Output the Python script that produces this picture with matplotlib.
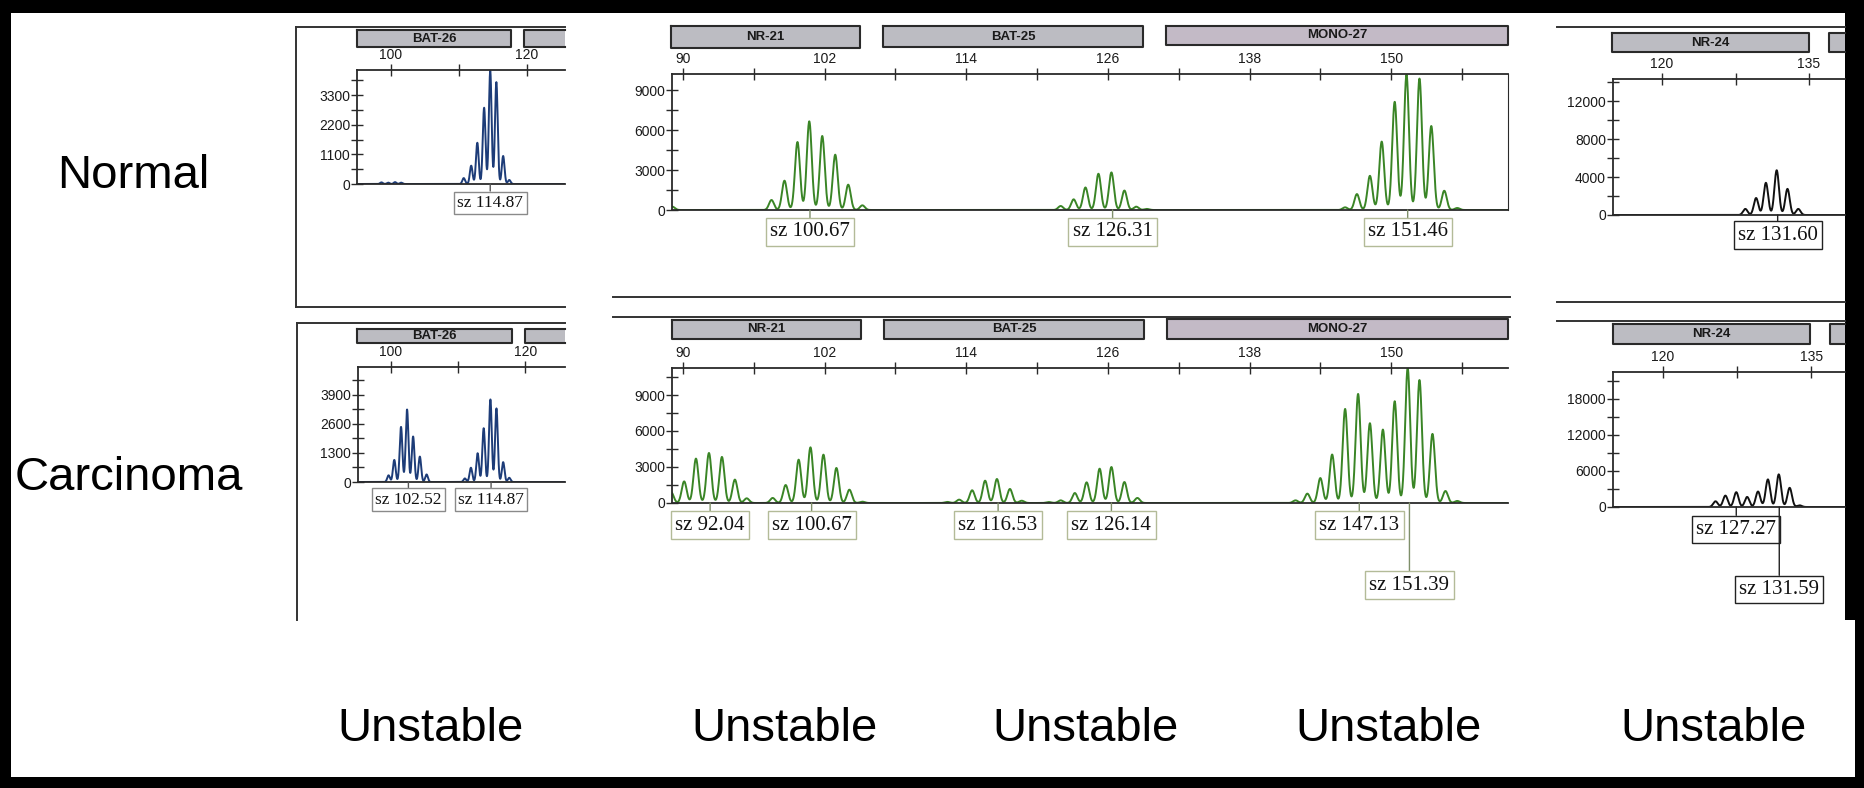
"""MSI electropherograms: normal vs carcinoma (BAT-26, NR-21/BAT-25/MONO-27, NR-24)."""
import numpy as np
import matplotlib
matplotlib.use("Agg")
import matplotlib.pyplot as plt
from matplotlib.patches import Rectangle
from matplotlib.lines import Line2D

W, H = 1865, 788
SANS = ["Liberation Sans", "DejaVu Sans"]
SERIF = ["Liberation Serif", "DejaVu Serif"]

# ---- peak tables (size in bp, height in RFU) ----
BAT26_N_POS = [98.6, 99.6, 100.6, 101.5, 110.7, 111.8, 112.7, 113.7, 114.6, 115.5, 116.5, 117.4]
BAT26_N_HT = [60, 50, 70, 50, 220, 680, 1530, 2830, 4200, 3780, 1040, 150]

BAT26_C_POS = [99.65, 100.5, 101.5, 102.4, 103.3, 104.3, 105.3,
               111.0, 111.9, 112.9, 113.8, 114.8, 115.7, 116.7, 117.6]
BAT26_C_HT = [300, 990, 2470, 3250, 2040, 1140, 340,
              160, 640, 1290, 2410, 3700, 3300, 890, 190]

MID_N_POS = [89.1, 97.5, 98.6, 99.7, 100.7, 101.8, 102.9, 104.0, 105.2,
             122.0, 123.1, 124.1, 125.2, 126.3, 127.4, 128.4, 129.3,
             146.1, 147.1, 148.2, 149.2, 150.3, 151.3, 152.4, 153.4, 154.5, 155.6]
MID_N_HT = [250, 750, 2200, 5100, 6650, 5550, 4150, 1900, 350,
            300, 800, 1690, 2720, 2820, 1460, 250, 80,
            200, 1195, 2565, 5130, 8115, 10150, 9860, 6300, 1445, 150]

MID_C_POS = [89.0, 90.1, 91.1, 92.2, 93.3, 94.4, 95.4,
             97.6, 98.7, 99.8, 100.8, 101.9, 103.0, 104.1, 105.2,
             112.4, 113.4, 114.5, 115.6, 116.6, 117.7, 118.7,
             121.0, 122.0, 123.2, 124.2, 125.3, 126.3, 127.4, 128.5,
             141.9, 142.9, 144.0, 145.0, 146.1, 147.2, 148.2, 149.3, 150.3,
             151.4, 152.4, 153.5, 154.6, 155.6]
MID_C_HT = [900, 1800, 3700, 4170, 3840, 1950, 390,
            420, 1500, 3610, 4640, 4030, 2920, 1110, 110,
            90, 280, 1060, 1860, 2000, 1170, 190,
            80, 220, 830, 1720, 2860, 3000, 1750, 420,
            220, 780, 2080, 4040, 7840, 9090, 6650, 6120, 8480,
            11250, 10250, 5760, 1000, 170]

NR24_N_POS = [128.5, 129.6, 130.6, 131.7, 132.8, 133.9]
NR24_N_HT = [640, 1790, 3390, 4710, 2750, 640]

NR24_C_POS = [125.3, 126.3, 127.4, 128.5, 129.6, 130.6, 131.7, 132.8, 133.8]
NR24_C_HT = [950, 1900, 2470, 1680, 2580, 4600, 5440, 3200, 280]

# size-call labels (text, anchor size)
BAT26_N_CALLS = [("sz 114.87", 114.6)]
BAT26_C_CALLS = [("sz 102.52", 102.6), ("sz 114.87", 114.9)]
MID_N_CALLS = [("sz 100.67", 100.76), ("sz 126.31", 126.4), ("sz 151.46", 151.4)]
MID_C_CALLS = [("sz 92.04", 92.3), ("sz 100.67", 100.9), ("sz 116.53", 116.7),
               ("sz 126.14", 126.3), ("sz 147.13", 147.3), ("sz 151.39", 151.55)]
NR24_N_CALLS = [("sz 131.60", 131.8)]
NR24_C_CALLS = [("sz 127.27", 127.4), ("sz 131.59", 131.75)]

ROW_LABELS = ["Normal", "Carcinoma"]
STATUS = ["Unstable"] * 5

GREEN = "#3a8526"
BLUE = "#1d3c78"
BLACK = "#111111"


def fx(x):
    return x / W


def fy(y):
    return 1 - y / H


def add_ax(fig, l, t, r, b):
    return fig.add_axes([fx(l), fy(b), (r - l) / W, (b - t) / H])


def hline(fig, x0, x1, y, color="#333", lw=1.4):
    fig.add_artist(Line2D([fx(x0), fx(x1)], [fy(y), fy(y)], transform=fig.transFigure,
                          color=color, lw=lw))


def vline(fig, x, y0, y1, color="#333", lw=1.4):
    fig.add_artist(Line2D([fx(x), fx(x)], [fy(y0), fy(y1)], transform=fig.transFigure,
                          color=color, lw=lw))


def bar(fig, x0, x1, y0, y1, label="", fc="#bcbcc2", open_right=False):
    fig.add_artist(Rectangle((fx(x0), fy(y1)), (x1 - x0) / W, (y1 - y0) / H,
                             transform=fig.transFigure, fc=fc, ec="none"))
    if open_right:
        xs, ys = [x1, x0, x0, x1], [y0, y0, y1, y1]
    else:
        xs, ys = [x0, x1, x1, x0, x0], [y0, y0, y1, y1, y0]
    fig.add_artist(Line2D([fx(v) for v in xs], [fy(v) for v in ys],
                          transform=fig.transFigure, color="#2a2a2a", lw=1.5))
    if label:
        fig.text(fx((x0 + x1) / 2), fy((y0 + y1) / 2), label, ha="center", va="center",
                 fontsize=9.5, weight="bold", family=SANS, color="#1a1a1a")


def trace(ax, pos, ht, color, sigma):
    x0, x1 = ax.get_xlim()
    x = np.linspace(x0, x1, 5000)
    y = np.zeros_like(x)
    for p, h in zip(pos, ht):
        y += h * np.exp(-(x - p) ** 2 / (2 * sigma ** 2))
    ax.plot(x, y, color=color, lw=1.4, solid_joinstyle="round")


def style(ax, xlim, ylim, xt, xlab, yt, ylab, right=False):
    ax.set_xlim(*xlim)
    ax.set_ylim(*ylim)
    ax.set_facecolor("white")
    ax.xaxis.tick_top()
    ax.set_xticks(xt)
    ax.set_xticklabels(xlab)
    ax.set_yticks(yt)
    ax.set_yticklabels(ylab)
    for s in ["left", "top", "bottom"]:
        ax.spines[s].set_color("#2a2a2a")
        ax.spines[s].set_linewidth(1.3)
    ax.spines["right"].set_visible(right)
    ax.spines["right"].set_color("#2a2a2a")
    ax.tick_params(direction="inout", length=8, width=1, colors="#2a2a2a",
                   labelsize=10, pad=1)
    ax.tick_params(axis="x", top=True, bottom=False, labeltop=True, labelbottom=False, pad=2)
    for t in ax.get_xticklabels() + ax.get_yticklabels():
        t.set_family(SANS)
        t.set_color("#1a1a1a")


def calls(ax, items, offsets, size, ec, lc):
    for (txt, x), off in zip(items, offsets):
        ax.annotate(txt, xy=(x, 0), xycoords="data", xytext=(0, -off),
                    textcoords="offset pixels", ha="center", va="center",
                    fontsize=size, family=SERIF, color="#111",
                    bbox=dict(boxstyle="square,pad=0.2", fc="white", ec=ec, lw=1),
                    arrowprops=dict(arrowstyle="-", color=lc, lw=1, shrinkA=0, shrinkB=0),
                    annotation_clip=False, zorder=5)


def labels_every(ticks, keep):
    return [str(int(t)) if t in keep else "" for t in ticks]


fig = plt.figure(figsize=(W / 100, H / 100), dpi=100, facecolor="black")
fig.add_artist(Rectangle((fx(11), fy(777)), (1855 - 11) / W, (777 - 13) / H,
                         transform=fig.transFigure, fc="white", ec="none", zorder=-10))
fig.add_artist(Rectangle((fx(1845), fy(620)), 12 / W, (620 - 13) / H,
                         transform=fig.transFigure, fc="black", ec="none", zorder=-9))

# ---------------- frames and separators ----------------
hline(fig, 296, 565, 27)
hline(fig, 296, 565, 307)
vline(fig, 296, 27, 307)
hline(fig, 297, 565, 323)
vline(fig, 297, 323, 620)
hline(fig, 613, 1510, 297)
hline(fig, 613, 1510, 317)
hline(fig, 1557, 1845, 27)
hline(fig, 1557, 1845, 302)
hline(fig, 1557, 1845, 321)

# ---------------- marker bars ----------------
bar(fig, 357, 511, 30, 47, "BAT-26")
bar(fig, 524, 565, 30, 47, open_right=True)
bar(fig, 357, 512, 329, 343, "BAT-26")
bar(fig, 525, 565, 329, 343, open_right=True)
bar(fig, 671, 860, 26, 48, "NR-21")
bar(fig, 883, 1143, 26, 47, "BAT-25")
bar(fig, 1166, 1508, 26, 45, "MONO-27", fc="#c3bac6")
bar(fig, 672, 861, 320, 339, "NR-21")
bar(fig, 884, 1144, 320, 339, "BAT-25")
bar(fig, 1167, 1508, 319, 339, "MONO-27", fc="#c3bac6")
bar(fig, 1612, 1809, 33, 52, "NR-24")
bar(fig, 1829, 1845, 33, 52, open_right=True)
bar(fig, 1613, 1810, 324, 344, "NR-24")
bar(fig, 1830, 1845, 324, 344, open_right=True)

# ---------------- BAT-26 ----------------
ax = add_ax(fig, 357, 70, 565, 184)
yt = list(range(0, 3851, 550))
style(ax, (95, 125.6), (0, 4230), [100, 110, 120], ["100", "", "120"],
      yt, labels_every(yt, {0, 1100, 2200, 3300}))
trace(ax, BAT26_N_POS, BAT26_N_HT, BLUE, 0.2)
calls(ax, BAT26_N_CALLS, [19], 12.5, "#8a8a8a", "#555")

ax = add_ax(fig, 358, 367, 565, 482)
yt = list(range(0, 4551, 650))
style(ax, (95.1, 125.9), (0, 5155), [100, 110, 120], ["100", "", "120"],
      yt, labels_every(yt, {0, 1300, 2600, 3900}))
trace(ax, BAT26_C_POS, BAT26_C_HT, BLUE, 0.2)
calls(ax, BAT26_C_CALLS, [17.5, 17.5], 12.5, "#8a8a8a", "#555")

# ---------------- NR-21 / BAT-25 / MONO-27 ----------------
xt = list(range(90, 157, 6))
xl = [str(t) if (t - 90) % 12 == 0 else "" for t in xt]
ax = add_ax(fig, 672, 74, 1508, 210)
yt = list(range(0, 9001, 1500))
style(ax, (89.07, 159.9), (0, 10200), xt, xl, yt,
      labels_every(yt, {0, 3000, 6000, 9000}), right=True)
trace(ax, MID_N_POS, MID_N_HT, GREEN, 0.21)
calls(ax, MID_N_CALLS, [22, 22, 22], 15, "#b3bb98", "#7f8f6a")

ax = add_ax(fig, 672, 368, 1508, 503)
yt = list(range(0, 10501, 1500))
style(ax, (89.07, 159.9), (0, 11250), xt, xl, yt,
      labels_every(yt, {0, 3000, 6000, 9000}))
trace(ax, MID_C_POS, MID_C_HT, GREEN, 0.21)
calls(ax, MID_C_CALLS, [22, 22, 22, 22, 22, 82], 15, "#b3bb98", "#7f8f6a")

# ---------------- NR-24 ----------------
ax = add_ax(fig, 1613, 79, 1845, 215)
yt = list(range(0, 14001, 2000))
style(ax, (115, 138.67), (0, 14316), [120, 127.5, 135], ["120", "", "135"],
      yt, labels_every(yt, {0, 4000, 8000, 12000}))
trace(ax, NR24_N_POS, NR24_N_HT, BLACK, 0.23)
calls(ax, NR24_N_CALLS, [20], 15, "#222", "#222")

ax = add_ax(fig, 1613, 372, 1845, 507)
yt = list(range(0, 21001, 3000))
style(ax, (114.93, 138.4), (0, 22500), [120, 127.5, 135], ["120", "", "135"],
      yt, labels_every(yt, {0, 6000, 12000, 18000}))
trace(ax, NR24_C_POS, NR24_C_HT, BLACK, 0.23)
calls(ax, NR24_C_CALLS, [22.5, 82.5], 15, "#222", "#222")

# ---------------- big labels ----------------
for txt, (x, y) in zip(ROW_LABELS, [(133, 188), (129, 490)]):
    fig.text(fx(x), fy(y), txt, ha="center", va="baseline", fontsize=34, family=SANS)
for txt, x in zip(STATUS, [431, 785, 1085, 1389, 1714]):
    fig.text(fx(x), fy(741), txt, ha="center", va="baseline", fontsize=34, family=SANS)

fig.savefig("out.png", dpi=100, facecolor="black")
